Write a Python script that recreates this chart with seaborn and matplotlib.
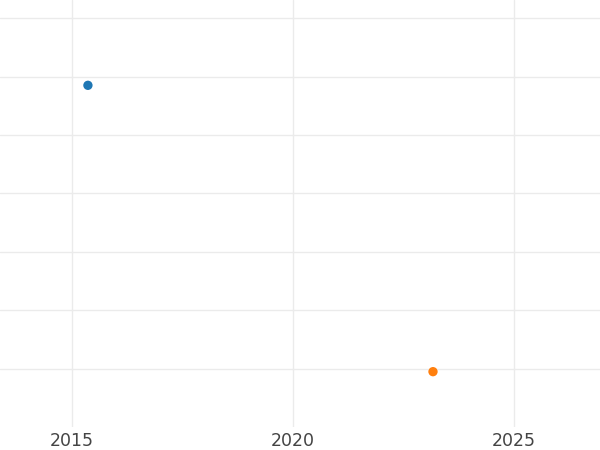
import pandas as pd
import numpy as np
import seaborn as sns
import matplotlib.pyplot as plt

# values
years = [2015.36, 2023.17]
values = [4.85, -0.05]
series = ["a", "b"]

df = pd.DataFrame({"year": years, "value": values, "series": series})

sns.set_style("white")
fig = plt.figure(figsize=(6, 4.5), dpi=100)
ax = fig.add_axes([0, 0.052, 1, 0.948])

sns.scatterplot(data=df, x="year", y="value", hue="series",
                palette=["#1f77b4", "#ff7f0e"], s=45, edgecolor="none",
                legend=False, ax=ax, zorder=3)

ax.set_xlim(2013.37, 2026.95)
ax.set_ylim(-0.99, 6.31)
ax.set_xticks([2015, 2020, 2025])
ax.set_yticks(np.arange(0, 7))
ax.set_yticklabels([])
ax.grid(True, color="#ebebeb", linewidth=1)
ax.tick_params(axis="x", length=0, pad=4, labelsize=12.5, labelcolor="#444444")
ax.tick_params(axis="y", length=0)
ax.set_xlabel("")
ax.set_ylabel("")
for sp in ax.spines.values():
    sp.set_visible(False)

plt.savefig("out.png", dpi=100)
